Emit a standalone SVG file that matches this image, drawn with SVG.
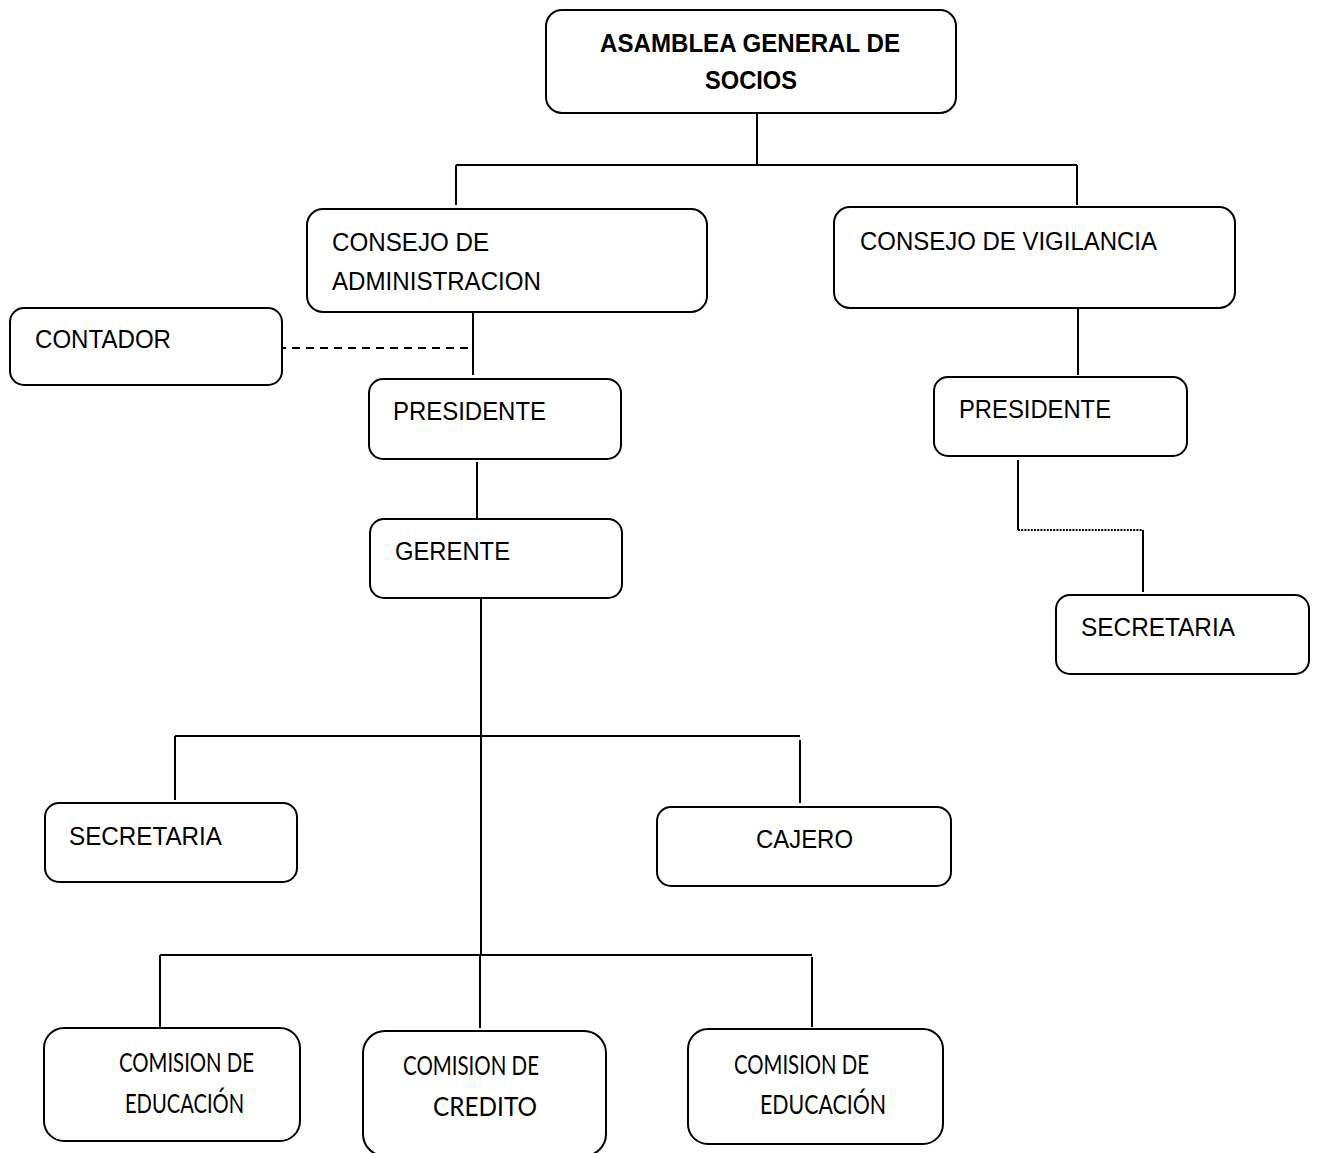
<svg xmlns="http://www.w3.org/2000/svg" width="1317" height="1153" viewBox="0 0 1317 1153">
  <style>
    .box { fill: #ffffff; stroke: #000000; stroke-width: 2; }
    .lbl { font-family: "Liberation Sans Narrow", "Liberation Sans", Arial, sans-serif; font-size: 26.5px; fill: #000000; }
    .bold { font-weight: bold; font-size: 25px; }
    .cal { font-family: Lato, "Open Sans", "Liberation Sans", sans-serif; font-size: 26.5px; fill: #000000; }
    .wire { fill: none; stroke: #000000; stroke-width: 2; }
    .dash { stroke-dasharray: 8 6; }
    .dot { stroke-dasharray: 2 1.2; stroke-width: 2; }
  </style>
  <rect width="1317" height="1153" fill="#ffffff"/>

  <!-- connectors -->
  <g id="connectors">
    <path class="wire" d="M757 113 V165 M456 165 H1077 M456 165 V205 M1077 165 V205"/>
    <path class="wire" d="M473 312 V375"/>
    <path class="wire dash" d="M278 348 H474"/>
    <path class="wire" d="M477 462 V518"/>
    <path class="wire" d="M481 598 V955"/>
    <path class="wire" d="M175 736 H800 M175 736 V800 M800 740 V803"/>
    <path class="wire" d="M160 955 H812 M160 955 V1027 M480 955 V1028 M812 957 V1027"/>
    <path class="wire" d="M1078 308 V375"/>
    <path class="wire" d="M1018 460 V530 M1143 530 V592"/>
    <path class="wire dot" d="M1018 530 H1143"/>
  </g>

  <g id="asamblea">
    <rect class="box" x="546" y="10" width="410" height="103" rx="16"/>
    <text class="lbl bold" x="600" y="52" textLength="300" lengthAdjust="spacingAndGlyphs">ASAMBLEA GENERAL DE</text>
    <text class="lbl bold" x="705" y="89" textLength="92" lengthAdjust="spacingAndGlyphs">SOCIOS</text>
  </g>

  <g id="consejo-administracion">
    <rect class="box" x="307" y="209" width="400" height="103" rx="16"/>
    <text class="lbl" x="332" y="251" textLength="157" lengthAdjust="spacingAndGlyphs">CONSEJO DE</text>
    <text class="lbl" x="332" y="290" textLength="209" lengthAdjust="spacingAndGlyphs">ADMINISTRACION</text>
  </g>

  <g id="consejo-vigilancia">
    <rect class="box" x="834" y="207" width="401" height="101" rx="16"/>
    <text class="lbl" x="860" y="250" textLength="297" lengthAdjust="spacingAndGlyphs">CONSEJO DE VIGILANCIA</text>
  </g>

  <g id="contador">
    <rect class="box" x="10" y="308" width="272" height="77" rx="14"/>
    <text class="lbl" x="35" y="348" textLength="136" lengthAdjust="spacingAndGlyphs">CONTADOR</text>
  </g>

  <g id="presidente-admin">
    <rect class="box" x="369" y="379" width="252" height="80" rx="14"/>
    <text class="lbl" x="393" y="420" textLength="153" lengthAdjust="spacingAndGlyphs">PRESIDENTE</text>
  </g>

  <g id="gerente">
    <rect class="box" x="370" y="519" width="252" height="79" rx="14"/>
    <text class="lbl" x="395" y="560" textLength="115" lengthAdjust="spacingAndGlyphs">GERENTE</text>
  </g>

  <g id="presidente-vigilancia">
    <rect class="box" x="934" y="377" width="253" height="79" rx="14"/>
    <text class="lbl" x="959" y="418" textLength="152" lengthAdjust="spacingAndGlyphs">PRESIDENTE</text>
  </g>

  <g id="secretaria-vigilancia">
    <rect class="box" x="1056" y="595" width="253" height="79" rx="14"/>
    <text class="lbl" x="1081" y="636" textLength="154" lengthAdjust="spacingAndGlyphs">SECRETARIA</text>
  </g>

  <g id="secretaria">
    <rect class="box" x="45" y="803" width="252" height="79" rx="14"/>
    <text class="lbl" x="69" y="845" textLength="153" lengthAdjust="spacingAndGlyphs">SECRETARIA</text>
  </g>

  <g id="cajero">
    <rect class="box" x="657" y="807" width="294" height="79" rx="14"/>
    <text class="lbl" x="756" y="848" textLength="97" lengthAdjust="spacingAndGlyphs">CAJERO</text>
  </g>

  <g id="comision-educacion-1">
    <rect class="box" x="44" y="1028" width="256" height="113" rx="20"/>
    <text class="cal" x="119" y="1072" textLength="135" lengthAdjust="spacingAndGlyphs">COMISION DE</text>
    <text class="cal" x="125" y="1113" textLength="119" lengthAdjust="spacingAndGlyphs">EDUCACIÓN</text>
  </g>

  <g id="comision-credito">
    <rect class="box" x="363" y="1031" width="243" height="125" rx="22"/>
    <text class="cal" x="403" y="1075" textLength="136" lengthAdjust="spacingAndGlyphs">COMISION DE</text>
    <text class="cal" x="433" y="1116" textLength="104" lengthAdjust="spacingAndGlyphs">CREDITO</text>
  </g>

  <g id="comision-educacion-2">
    <rect class="box" x="688" y="1029" width="255" height="115" rx="20"/>
    <text class="cal" x="734" y="1074" textLength="135" lengthAdjust="spacingAndGlyphs">COMISION DE</text>
    <text class="cal" x="760" y="1114" textLength="126" lengthAdjust="spacingAndGlyphs">EDUCACIÓN</text>
  </g>
</svg>
